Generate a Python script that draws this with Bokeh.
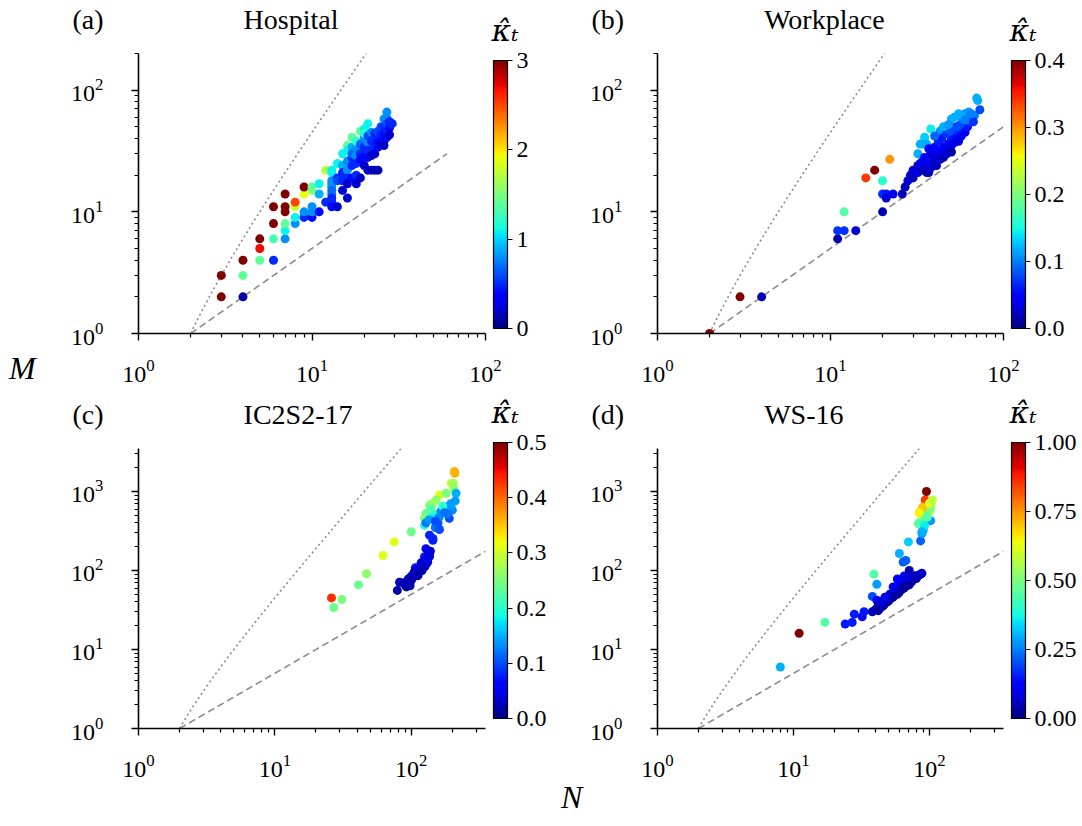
import numpy as np
from bokeh.plotting import figure
from bokeh.models import (ColorBar, LinearColorMapper, FixedTicker, ColumnDataSource,
                          PrintfTickFormatter, Range1d, Title, Div)
from bokeh.layouts import column, row
from bokeh.embed import file_html
from bokeh.resources import INLINE

# ---------------- data ----------------
# (a) Hospital
hosp_N = [3, 3, 4, 4, 4, 5, 5, 5, 6, 6, 6, 6, 7, 7, 7, 7, 7, 7, 8, 8, 8, 8, 9, 9, 9, 9,
          10, 10, 10, 10, 10, 11, 11, 11, 12, 12,
          13, 13, 13, 13, 13, 13, 13, 13, 13, 13,
          14, 14, 14, 14,
          15, 15, 15, 15, 15,
          16, 16, 16, 16, 16, 16, 16,
          17, 17, 17, 17, 17, 17,
          18, 18, 18, 18, 18, 18,
          19, 19, 19, 19, 19,
          20, 20, 20, 20, 20, 20,
          21, 21, 21, 21, 21, 21,
          22, 22, 22, 22, 22,
          23, 23, 23, 23, 23,
          24, 24, 24, 24, 24,
          25, 25, 25, 25,
          26, 26, 26, 26, 26,
          27, 27, 27, 27, 27,
          28, 28, 28,
          29]
hosp_M = [2, 3, 2, 3, 4, 4, 5, 6, 4, 6, 8, 11, 6, 7, 8, 10, 11, 14, 8, 9, 11, 12, 9, 10, 14, 16,
          9, 10, 11, 15, 16, 10, 14, 17, 12, 22,
          22, 21, 18, 17, 16, 15, 14, 13, 12, 11,
          25, 19, 18, 11,
          30, 24, 21, 18, 15,
          35, 32, 26, 22, 19, 17, 13,
          41, 34, 28, 24, 19, 30,
          34, 29, 25, 20, 17, 38,
          46, 19, 36, 30, 27,
          48, 41, 34, 28, 24, 44,
          53, 37, 32, 28, 22, 42,
          45, 38, 32, 29, 22,
          44, 35, 30, 22, 40,
          41, 34, 22, 46, 37,
          44, 38, 36, 50,
          58, 50, 38, 35, 44,
          66, 59, 47, 41, 53,
          49, 43, 55,
          53]
hosp_k = [3.0, 3.0, 0.1, 1.4, 3.0, 1.4, 2.7, 3.0, 0.5, 1.3, 3.0, 3.0, 0.8, 1.1, 1.4, 3.0, 3.0, 3.0,
          0.8, 1.1, 1.8, 2.5, 0.5, 0.8, 1.9, 3.0,
          0.4, 0.8, 0.8, 1.6, 1.4, 0.4, 0.9, 1.1, 0.5, 1.7,
          1.1, 1.1, 0.8, 0.8, 0.8, 0.7, 0.7, 0.5, 0.5, 0.4,
          1.1, 0.5, 0.6, 0.2,
          1.1, 0.9, 0.5, 0.5, 0.2,
          1.4, 1.1, 0.8, 0.8, 0.5, 0.2, 0.2,
          1.4, 0.9, 0.5, 0.5, 0.4, 0.7,
          0.8, 0.8, 0.5, 0.5, 0.2, 1.2,
          1.4, 0.2, 0.7, 0.5, 0.4,
          1.1, 0.8, 0.5, 0.4, 0.2, 1.2,
          1.1, 0.8, 0.5, 0.4, 0.2, 0.6,
          0.8, 0.5, 0.5, 0.2, 0.15,
          0.5, 0.5, 0.2, 0.15, 0.5,
          0.5, 0.4, 0.15, 0.6, 0.4,
          0.5, 0.4, 0.2, 0.6,
          0.8, 0.5, 0.4, 0.2, 0.4,
          0.8, 0.8, 0.5, 0.4, 0.6,
          0.4, 0.2, 0.5,
          0.5]

# (b) Workplace
work_N = [2, 3, 4, 11, 11, 12, 12, 14, 16, 18, 20, 20, 20, 21, 21, 23, 22, 26,
          27, 28, 29, 30, 31, 32, 33, 32, 34, 35, 36, 36, 37, 38, 39, 40, 41, 40, 42, 43, 44, 45,
          45, 46, 47, 48, 48, 50, 50, 52, 52, 54, 55, 55, 57, 58, 60, 60, 62, 64, 63, 65,
          62, 60, 55, 50, 52, 43, 45, 66, 68, 67, 70, 71, 73, 38, 35, 34, 36, 32, 33,
          38, 40, 37, 42, 44, 47, 49, 53, 56, 58, 45, 48, 40, 57, 63, 65, 60, 35, 34, 30, 39, 50]
work_M = [1, 2, 2, 6, 7, 7, 10, 7, 19, 22, 18, 10, 14, 14, 13, 14, 27, 14,
          16, 18, 20, 19, 21, 21, 25, 24, 22, 24, 25, 21, 21, 23, 24, 26, 24, 32, 29, 27, 31, 28,
          34, 32, 30, 36, 33, 35, 40, 37, 43, 40, 38, 46, 42, 48, 45, 52, 50, 55, 56, 58,
          61, 64, 64, 58, 60, 46, 45, 60, 62, 55, 86, 82, 69, 48, 41, 36, 36, 30, 36,
          30, 34, 33, 38, 40, 44, 46, 50, 52, 58, 50, 52, 42, 62, 66, 64, 57, 28, 26, 22, 28, 31]
work_k = [0.4, 0.4, 0.02, 0.02, 0.07, 0.07, 0.18, 0.03, 0.34, 0.4, 0.16, 0.02, 0.07, 0.06, 0.03, 0.04, 0.3, 0.02,
          0.02, 0.03, 0.03, 0.02, 0.03, 0.04, 0.05, 0.03, 0.02, 0.03, 0.03, 0.02, 0.02, 0.03, 0.03, 0.04, 0.02, 0.03, 0.04, 0.03, 0.04, 0.02,
          0.05, 0.04, 0.03, 0.05, 0.03, 0.04, 0.06, 0.04, 0.06, 0.05, 0.03, 0.07, 0.05, 0.07, 0.04, 0.08, 0.06, 0.07, 0.08, 0.09,
          0.1, 0.1, 0.12, 0.12, 0.12, 0.11, 0.11, 0.09, 0.1, 0.07, 0.12, 0.12, 0.08, 0.145, 0.13, 0.12, 0.12, 0.12, 0.12,
          0.04, 0.05, 0.04, 0.06, 0.06, 0.07, 0.08, 0.08, 0.08, 0.1, 0.12, 0.11, 0.09, 0.12, 0.11, 0.1, 0.1, 0.05, 0.04, 0.03, 0.03, 0.02]

# (c) IC2S2-17
ic_N = [26, 31, 27, 41, 47, 62, 75, 100,
        207, 209, 196, 203, 205, 213, 210, 161, 180, 152, 144, 136, 128, 125, 125, 144, 150,
        165, 175, 185, 195, 200, 195, 190, 185, 157, 150, 161, 136, 144, 144, 128, 135, 140, 170, 160, 150, 175,
        128, 125, 136, 138, 136, 132, 128, 122, 115, 110, 107, 105, 102, 100, 97, 94, 90, 82, 79,
        95, 100, 105, 110, 115, 120, 125, 130, 133, 118, 112, 98, 92, 88, 120, 126]
ic_M = [45, 43, 34, 66, 91, 155, 230, 309,
        1790, 1700, 1270, 1270, 1100, 950, 760, 900, 950, 780, 708, 673, 528, 456, 375, 528, 456,
        560, 600, 640, 700, 580, 650, 456, 520, 400, 350, 330, 280, 254, 241, 400, 440, 600, 650, 470, 420, 540,
        189, 149, 164, 175, 150, 128, 120, 110, 96, 92, 108, 88, 80, 75, 72, 68, 66, 71, 56,
        78, 85, 95, 100, 105, 115, 130, 140, 155, 125, 86, 64, 62, 70, 100, 112]
ic_k = [0.43, 0.25, 0.24, 0.24, 0.26, 0.31, 0.31, 0.24,
        0.36, 0.36, 0.3, 0.27, 0.26, 0.15, 0.14, 0.31, 0.25, 0.26, 0.27, 0.26, 0.24, 0.25, 0.19, 0.19, 0.18,
        0.13, 0.13, 0.13, 0.14, 0.13, 0.14, 0.1, 0.12, 0.1, 0.12, 0.1, 0.08, 0.08, 0.08, 0.12, 0.14, 0.22, 0.2, 0.13, 0.1, 0.12,
        0.06, 0.07, 0.03, 0.04, 0.03, 0.03, 0.02, 0.03, 0.02, 0.03, 0.07, 0.02, 0.02, 0.02, 0.02, 0.02, 0.02, 0.03, 0.02,
        0.02, 0.02, 0.03, 0.03, 0.03, 0.04, 0.04, 0.05, 0.04, 0.04, 0.02, 0.02, 0.02, 0.02, 0.02, 0.03]

# (d) WS-16
ws_N = [8, 11, 17, 24, 27, 28, 32, 33, 38, 38, 41, 42, 39, 41, 60, 64, 67, 70, 71, 84,
        86, 88, 90, 93, 96, 102, 84, 83, 90, 96, 85, 85, 90, 96, 103, 104, 93, 95, 100, 96, 102, 93, 96, 92, 88, 89, 84, 100, 105,
        40, 42, 43, 44, 45, 46, 47, 48, 49, 50, 50, 51, 52, 53, 54, 55, 55, 56, 57, 58, 59, 60, 60, 61, 62, 63,
        64, 65, 66, 67, 68, 70, 71, 72, 74, 75, 77, 78, 80, 83, 86, 88, 58, 54, 47, 44, 65, 69]
ws_M = [6, 16, 22, 21, 22, 28, 26, 30, 30, 47, 42, 36, 90, 67, 164, 128, 134, 230, 100, 88,
        237, 294, 324, 394, 434, 427, 402, 390, 488, 488, 555, 528, 611, 655, 693, 745, 780, 1000, 560, 620, 620, 500, 470, 370, 310, 632, 537, 710, 780,
        32, 31, 36, 34, 40, 36, 38, 42, 40, 45, 41, 50, 44, 48, 46, 55, 48, 52, 60, 50, 56, 53, 64, 58, 70, 58,
        63, 60, 68, 74, 64, 70, 66, 76, 72, 80, 78, 86, 79, 86, 90, 92, 78, 62, 46, 40, 85, 82]
ws_k = [0.3, 1.0, 0.45, 0.15, 0.15, 0.15, 0.12, 0.15, 0.05, 0.2, 0.12, 0.05, 0.45, 0.28, 0.3, 0.22, 0.22, 0.33, 0.05, 0.05,
        0.22, 0.28, 0.3, 0.36, 0.36, 0.28, 0.45, 0.45, 0.5, 0.5, 0.62, 0.62, 0.7, 0.72, 0.62, 0.55, 0.85, 1.0, 0.55, 0.68, 0.5, 0.45, 0.45, 0.36, 0.3, 0.7, 0.65, 0.62, 0.58,
        0.05, 0.04, 0.05, 0.03, 0.06, 0.04, 0.04, 0.05, 0.03, 0.06, 0.03, 0.08, 0.04, 0.05, 0.03, 0.07, 0.04, 0.05, 0.1, 0.03, 0.05, 0.03, 0.08, 0.05, 0.1, 0.03,
        0.05, 0.03, 0.05, 0.07, 0.03, 0.05, 0.03, 0.05, 0.03, 0.06, 0.04, 0.06, 0.04, 0.05, 0.06, 0.06, 0.12, 0.1, 0.1, 0.08, 0.1, 0.08]

titles = ["Hospital", "Workplace", "IC2S2-17", "WS-16"]
letters = ["(a)", "(b)", "(c)", "(d)"]
cbar_title = "\u03ba\u0302\u209c"
cbar_max = [3, 0.4, 0.5, 1.0]
cbar_ticks = [[0, 1, 2, 3], [0.0, 0.1, 0.2, 0.3, 0.4], [0.0, 0.1, 0.2, 0.3, 0.4, 0.5],
              [0.0, 0.25, 0.5, 0.75, 1.0]]
cbar_fmt = ["%d", "%.1f", "%.1f", "%.2f"]
x_max = [100, 100, 350, 350]
y_max = [200, 200, 3500, 3500]
line_end = [60, 100, 350, 350]
major_ticks = [1, 10, 100, 1000]
minor_ticks = [m * d for d in (1, 10, 100, 1000) for m in range(2, 10)]


def jet(n=256):
    x = np.linspace(0, 1, n)
    r = np.interp(x, [0, 0.35, 0.66, 0.89, 1], [0, 0, 1, 1, 0.5])
    g = np.interp(x, [0, 0.125, 0.375, 0.64, 0.91, 1], [0, 0, 1, 1, 0, 0])
    b = np.interp(x, [0, 0.11, 0.34, 0.65, 1], [0.5, 1, 1, 0, 0])
    return ["#%02x%02x%02x" % (int(round(255 * a)), int(round(255 * c)), int(round(255 * e)))
            for a, c, e in zip(r, g, b)]


JET = jet()
FONT = "Liberation Serif"

LEFT_DIV = 50
ROW_H = [395, 395]
BOT = [62, 62]
COL_W = [510, 522]
LEFT = [88, 97]
RIGHT = [75, 79]
TOP = 53
FH = 280
CB_Y = [5, 10]
CB_H = [268, 276]
NBSP = "\u00a0"


def make_panel(i, N, M, k):
    r, c = divmod(i, 2)
    fw = COL_W[c] - LEFT[c] - RIGHT[c]
    p = figure(width=COL_W[c], height=ROW_H[r], x_axis_type="log", y_axis_type="log",
               x_range=Range1d(1, x_max[i]), y_range=Range1d(1, y_max[i]),
               output_backend="svg", toolbar_location=None,
               min_border_left=LEFT[c], min_border_right=RIGHT[c],
               min_border_top=TOP, min_border_bottom=BOT[r])
    p.outline_line_color = None
    p.grid.visible = False
    p.background_fill_color = "white"
    p.border_fill_color = "white"

    # blank spacer next to the frame, then the title line further out
    p.add_layout(Title(text=NBSP, text_color="white", text_font_size="2px", standoff=15), "above")
    letter_off = -round(0.19 * fw)
    letter_w = 32
    gap = round(0.49 * fw) - letter_w
    text = letters[i] + NBSP * max(1, round(gap / 7.0)) + titles[i]
    p.title = Title(text=text, align="left", offset=letter_off, text_font=FONT,
                    text_font_size="28px", text_font_style="normal", text_color="black",
                    standoff=0)

    nn = np.geomspace(2, line_end[i], 300)
    p.line(nn, nn * (nn - 1) / 2, line_color="#8c8c8c", line_width=1.6, line_dash="2 3")
    p.line(nn, nn / 2, line_color="#8c8c8c", line_width=1.6, line_dash="7 4")

    mapper = LinearColorMapper(palette=JET, low=0, high=cbar_max[i])
    src = ColumnDataSource(dict(N=N, M=M, k=k))
    p.scatter("N", "M", source=src, size=9, line_color=None,
              fill_color={"field": "k", "transform": mapper})

    for ax in (p.xaxis[0], p.yaxis[0]):
        ax.ticker = FixedTicker(ticks=major_ticks, minor_ticks=minor_ticks)
        ax.major_label_text_font = FONT
        ax.major_label_text_font_size = "24px"
        ax.major_label_text_color = "black"
        ax.axis_line_width = 1.6
        ax.major_tick_line_width = 1.4
        ax.minor_tick_line_width = 1.2
        ax.major_tick_out = 7
        ax.major_tick_in = 0
        ax.minor_tick_out = 4
        ax.minor_tick_in = 0
    p.xaxis.major_label_standoff = 19
    p.yaxis.major_label_standoff = 28

    cb = ColorBar(color_mapper=mapper, location=(fw + 8, CB_Y[r]), width=14, height=CB_H[r],
                  padding=0, margin=0,
                  ticker=FixedTicker(ticks=cbar_ticks[i]),
                  formatter=PrintfTickFormatter(format=cbar_fmt[i]),
                  major_label_text_font=FONT, major_label_text_font_size="24px",
                  major_label_text_color="black",
                  major_tick_line_color="black", major_tick_in=0, major_tick_out=5,
                  minor_tick_line_color=None, label_standoff=4,
                  bar_line_color="black", bar_line_width=1.2,
                  background_fill_color=None, border_line_color=None)
    p.add_layout(cb, "center")

    # title of the colour bar, carried by an invisible horizontal bar above it
    tmap = LinearColorMapper(palette=["#ffffff"], low=0, high=1)
    tcb = ColorBar(color_mapper=tmap, orientation="horizontal",
                   location=(fw + 6, CB_Y[r] + CB_H[r] + 10), width=20, height=1,
                   padding=0, margin=0, scale_alpha=0,
                   title=cbar_title, title_text_font="DejaVu Serif", title_text_font_size="30px",
                   title_text_font_style="italic", title_text_color="black", title_standoff=4,
                   ticker=FixedTicker(ticks=[]), major_label_text_font_size="1px",
                   major_tick_line_color=None, minor_tick_line_color=None,
                   bar_line_color=None, background_fill_color=None, border_line_color=None)
    p.add_layout(tcb, "center")
    return p


pa = make_panel(0, hosp_N, hosp_M, hosp_k)
pb = make_panel(1, work_N, work_M, work_k)
pc = make_panel(2, ic_N, ic_M, ic_k)
pd = make_panel(3, ws_N, ws_M, ws_k)

div_m = Div(text="<div style=\"font-family:'Liberation Serif';font-style:italic;font-size:32px;"
                 "line-height:32px;padding-top:352px;padding-left:9px;color:black\">M</div>",
            width=LEFT_DIV, height=826, margin=0)
div_n = Div(text="<div style=\"font-family:'Liberation Serif';font-style:italic;font-size:32px;"
                 "line-height:14px;padding-top:0px;padding-left:511px;color:black\">N</div>",
            width=1082 - LEFT_DIV, height=826 - ROW_H[0] - ROW_H[1], margin=0)

layout = row(div_m, column(row(pa, pb), row(pc, pd), div_n))
open("out.html", "w").write(file_html(layout, INLINE))
